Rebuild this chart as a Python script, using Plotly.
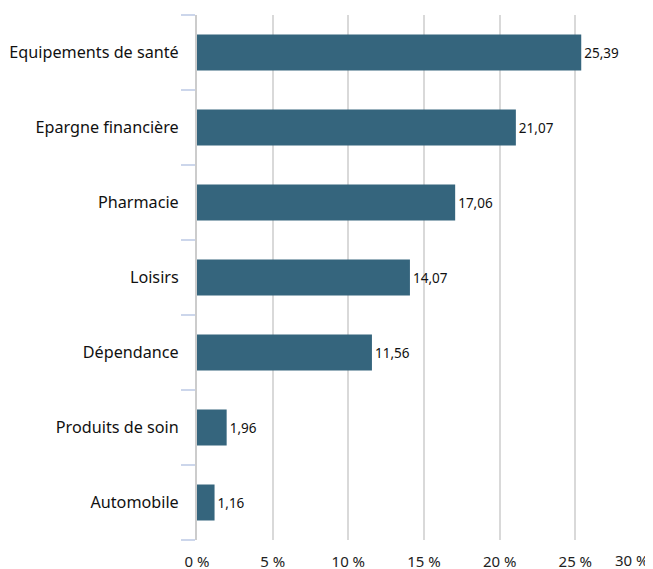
import plotly.graph_objects as go

categories = ["Equipements de santé", "Epargne financière", "Pharmacie", "Loisirs",
              "Dépendance", "Produits de soin", "Automobile"]
values = [25.39, 21.07, 17.06, 14.07, 11.56, 1.96, 1.16]
x_ticks = [0, 5, 10, 15, 20, 25, 30]
x_tick_labels = ["0 %", "5 %", "10 %", "15 %", "20 %", "25 %", ""]
last_tick_label = "30 %"

fig = go.Figure(go.Bar(
    x=values, y=categories, orientation="h",
    marker=dict(color="#35657d", line=dict(width=0)),
    text=[f"{v:.2f}".replace(".", ",") for v in values],
    textposition="outside", cliponaxis=False,
    textfont=dict(size=13.5, color="#111111", family="Noto Sans"),
    width=0.48,
))

fig.add_annotation(x=x_ticks[-1], y=0, xref="x", yref="paper", yshift=-8,
                   text=last_tick_label, showarrow=False, xanchor="right", yanchor="top",
                   font=dict(size=15, color="#222222", family="Noto Sans"))

# page body has an 8px margin; size the figure so the plot area lands where the reference's does
fig.update_layout(
    width=645, height=561,
    margin=dict(l=189, r=2, t=7, b=29),
    plot_bgcolor="white", paper_bgcolor="white",
    font=dict(family="Noto Sans", size=15, color="#111111"),
    showlegend=False,
)
fig.update_xaxes(range=[0, 30], tickvals=x_ticks, ticktext=x_tick_labels,
                 showgrid=True, gridcolor="#d9d9d9", gridwidth=1.5,
                 zeroline=False, showline=False, ticks="", automargin=False,
                 ticklabelstandoff=11, fixedrange=True,
                 tickfont=dict(size=15, color="#222222"))
fig.update_yaxes(categoryorder="array", categoryarray=categories[::-1],
                 showline=True, linecolor="#cccccc", linewidth=2, automargin=False,
                 ticks="outside", tickson="boundaries", ticklen=14, tickwidth=2,
                 tickcolor="#ccd6eb", ticklabelstandoff=13, showgrid=False,
                 tickfont=dict(size=16.2, color="#111111"))

fig.write_html("out.html")
